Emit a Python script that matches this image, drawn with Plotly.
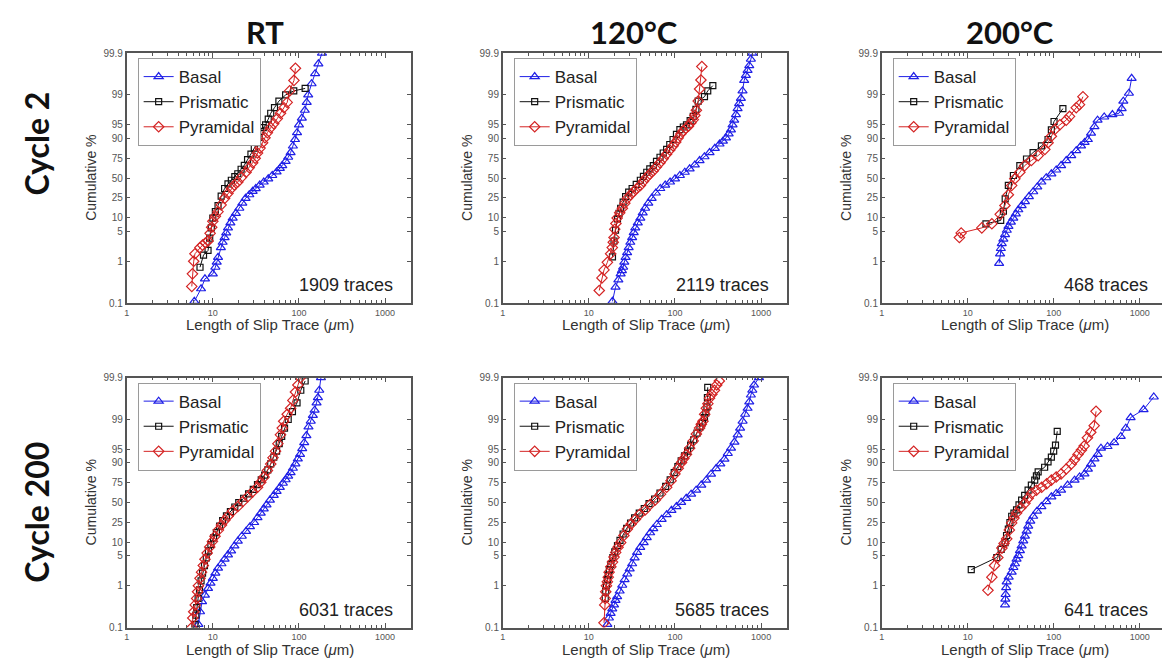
import numpy as np
import plotly.graph_objects as go

# ---------------------------------------------------------------
# Cumulative distribution of slip-trace lengths (um, cumulative %)
# rows: fatigue cycle, columns: test temperature
# ---------------------------------------------------------------
temperatures = ["RT", "120°C", "200°C"]
cycles = ["Cycle 2", "Cycle 200"]
systems = ["Basal", "Prismatic", "Pyramidal"]
trace_counts = [1909, 2119, 468, 6031, 5685, 641]

prob_ticks = [0.1, 1, 5, 10, 25, 50, 75, 90, 95, 99, 99.9]
prob_labels = ["0.1", "1", "5", "10", "25", "50", "75", "90", "95", "99", "99.9"]
len_ticks = [1, 10, 100, 1000]
len_labels = ["1", "10", "100", "1000"]

# ---- Cycle 2, RT ----
c2_rt_basal_len = [6.1, 7.3, 8.1, 10, 10.7, 11.1, 11.5, 12.4, 13.0, 13.7, 14.3, 15, 16, 17, 18.5, 20.3, 22, 24, 26.5, 29, 31.5, 35, 39, 44, 49, 55, 60, 64, 70, 75, 80, 85, 90, 95, 100, 108, 117, 123, 128, 140, 154, 168, 185]
c2_rt_basal_pct = [0.11, 0.22, 0.38, 0.5, 0.72, 0.95, 1.24, 2.1, 2.8, 3.6, 4.6, 6.0, 7.8, 9.9, 12.5, 15.9, 20, 24.6, 28.5, 32.5, 35.9, 40.5, 44.6, 49, 53.6, 58.5, 63, 66.6, 71.5, 76, 80.4, 85.5, 89.4, 92.5, 95.0, 96.5, 97.7, 98.5, 99.0, 99.46, 99.69, 99.82, 99.9]
c2_rt_prism_len = [7.1, 7.8, 8.8, 9.2, 9.6, 10, 10.7, 11.5, 12.5, 13.7, 15, 16.4, 18, 19.5, 21.3, 23.2, 25.3, 27.7, 30.3, 33, 34.5, 36, 38.5, 41, 44, 47, 52, 58.5, 70, 87, 118]
c2_rt_prism_pct = [0.72, 1.4, 1.8, 3.5, 6, 9.9, 13.5, 18, 27, 36, 42, 47, 52, 56, 62, 67, 73.5, 79, 84, 87.6, 90.5, 93, 94.2, 95, 96.3, 97.3, 98.0, 98.6, 99.0, 99.2, 99.3]
c2_rt_pyr_len = [5.7, 5.8, 6.0, 6.2, 7.1, 7.6, 8.2, 8.8, 9.3, 9.7, 10, 10.7, 11.5, 12.5, 13.7, 15, 16.4, 17.8, 19.5, 21.5, 24.3, 26.5, 29, 31, 33, 35.3, 37.8, 40.3, 43, 47, 51, 56, 61, 67, 73, 78, 87.5, 91]
c2_rt_pyr_pct = [0.25, 0.5, 1.0, 1.5, 2.1, 2.4, 2.7, 3.0, 4.5, 6.2, 8.4, 10.8, 13.5, 18.5, 24.6, 30, 36, 40.5, 44.6, 51, 58, 64, 70, 75, 80, 84, 87.6, 90.3, 92.5, 94.2, 95.3, 96.4, 97.3, 98.0, 98.5, 99.2, 99.55, 99.77]

# ---- Cycle 2, 120°C ----
c2_120_basal_len = [18.8, 20.4, 22, 23.4, 24.2, 25, 25.8, 26.7, 27.8, 29, 30.3, 31.8, 33.2, 34.6, 37, 39.6, 42.2, 45, 49, 53.6, 60, 67.5, 77, 87.7, 100, 114, 130, 148, 170, 193, 220, 252, 290, 329, 360, 391, 420, 446, 466, 487, 510, 533, 555, 582, 608, 636, 665, 696, 728, 760, 790]
c2_120_basal_pct = [0.11, 0.24, 0.36, 0.5, 0.6, 0.72, 0.95, 1.24, 1.6, 2.1, 2.8, 3.6, 4.7, 6.0, 7.8, 9.9, 12.8, 15.9, 20, 24.6, 30.5, 36, 40.5, 44.6, 49, 53.6, 58, 62.5, 67.5, 72.5, 76.5, 80.4, 83.8, 86.8, 88.5, 90.2, 92, 93.5, 95, 96.1, 97.1, 97.9, 98.4, 98.8, 99.2, 99.55, 99.66, 99.74, 99.8, 99.86, 99.9]
c2_120_prism_len = [18.8, 19.6, 20.4, 21.5, 22.4, 23.4, 25, 26.7, 29, 31.8, 35.5, 39.6, 43, 47, 51, 56, 61, 67, 73, 80, 87, 95, 104, 114, 125, 136, 150, 163, 175, 186, 220, 240, 275]
c2_120_prism_pct = [1.27, 3.0, 5.3, 9.5, 12.5, 15.9, 21, 26.5, 31.5, 36, 41.5, 47, 52.5, 58, 62.5, 66.6, 71.5, 76, 80, 83, 86.5, 89.4, 91.8, 93.6, 94.4, 95, 96, 96.8, 97.8, 98.6, 98.9, 99.2, 99.4]
c2_120_pyr_len = [13.2, 14.2, 15.0, 16.4, 17.9, 18.7, 19.2, 19.6, 20, 20.6, 21.3, 22.8, 24.5, 26.2, 28, 30.5, 33, 36, 39.7, 43, 47, 51, 56, 61, 67, 73, 80, 87, 95, 102, 109, 117, 125, 134, 143, 153, 163, 170, 177, 186, 193, 200, 205]
c2_120_pyr_pct = [0.2, 0.4, 0.62, 0.94, 1.5, 2.1, 2.8, 3.6, 5.6, 7.5, 9.9, 12.8, 15.9, 20, 24.6, 28.5, 32, 36, 40, 45.5, 51, 55.5, 60, 65, 70, 74.5, 79, 82.5, 85.6, 88, 90.2, 92, 93.2, 94, 94.6, 95.5, 96.2, 97, 97.7, 98.6, 99.28, 99.56, 99.79]

# ---- Cycle 2, 200°C ----
c2_200_basal_len = [23.2, 23.8, 24.3, 24.9, 26, 27.2, 28.5, 29.8, 31.8, 33.9, 36.3, 38.8, 42.4, 46.3, 51.5, 57.8, 64.5, 72, 82, 94, 107, 122, 140, 160, 183, 208, 229, 250, 272, 298, 324, 387, 482, 575, 618, 646, 750, 807]
c2_200_basal_pct = [0.89, 1.5, 2.0, 2.6, 3.3, 4.2, 5.3, 6.5, 8.1, 9.9, 12.2, 14.8, 18, 21.5, 26.5, 32, 38, 44.6, 50.5, 55.9, 61, 66.6, 72.5, 77.6, 82, 85.6, 87.8, 89.4, 92.3, 94.5, 96.1, 96.7, 97.1, 97.3, 97.9, 98.6, 99.09, 99.6]
c2_200_prism_len = [16.3, 24.2, 26, 27.3, 29.7, 34, 40.4, 48.3, 57.6, 72, 86, 94, 101, 128]
c2_200_prism_pct = [7.4, 8.8, 13.8, 24, 40, 53.6, 66.6, 74.2, 80.4, 85.6, 89.4, 93.5, 95.8, 97.9]
c2_200_pyr_len = [8, 8.4, 14.6, 19.1, 23.9, 27.1, 29.7, 32.5, 35.3, 40.4, 46, 55, 66, 79, 86, 94, 103, 118, 140, 153, 183, 200, 219]
c2_200_pyr_pct = [3.6, 4.6, 6.0, 7.4, 11.9, 18, 28.5, 40, 49, 58, 66.6, 72.5, 77.6, 83, 87.6, 91, 93.6, 95, 96.1, 96.8, 98, 98.3, 98.9]

# ---- Cycle 200, RT ----
c200_rt_basal_len = [6.8, 7.1, 7.5, 8.1, 8.8, 9.4, 10, 10.7, 11.5, 12.6, 13.7, 15, 16.3, 17.8, 19.5, 21.7, 24.3, 27, 30.2, 33, 36, 39, 42, 46, 51, 55, 60, 65, 70, 75, 80, 85, 91, 97, 103, 109, 115, 122, 129, 137, 145, 152, 160, 166, 172, 180]
c200_rt_basal_pct = [0.12, 0.24, 0.42, 0.6, 0.87, 1.15, 1.5, 2.0, 2.6, 3.3, 4.2, 5.3, 6.5, 8.4, 10.6, 13.5, 17, 21, 25, 30.5, 36, 41.5, 47, 53.5, 60, 65, 70, 74.5, 78, 81.2, 84, 87, 89.5, 91.8, 93.5, 95.2, 96.5, 97.6, 98.5, 98.9, 99.2, 99.4, 99.6, 99.7, 99.8, 99.9]
c200_rt_prism_len = [6.2, 6.35, 6.5, 6.75, 7.0, 7.3, 7.6, 8, 8.4, 8.9, 9.5, 10.2, 11, 12, 13, 14.4, 16, 18, 20, 22.8, 26, 29.5, 33, 36.5, 40, 43.5, 47, 51, 55, 59, 63, 68, 75, 84, 95, 105, 118]
c200_rt_prism_pct = [0.12, 0.2, 0.3, 0.5, 0.8, 1.3, 2.0, 3.0, 4.5, 6.5, 9, 12.5, 16, 21.5, 27, 32.5, 38, 44, 50, 56, 62, 67.5, 73, 78, 82, 86, 89.5, 92.5, 94.5, 96.3, 97.5, 98.4, 99.0, 99.35, 99.6, 99.8, 99.88]
c200_rt_pyr_len = [5.7, 5.85, 6.0, 6.25, 6.5, 6.65, 6.8, 7.1, 7.4, 7.75, 8.1, 8.6, 9.2, 9.9, 10.6, 11.6, 12.6, 13.8, 15, 17, 19.5, 22.3, 25.4, 29, 33, 36, 39.3, 43, 47, 50, 53.5, 57, 61, 64, 66.5, 73, 80, 85, 91, 97, 104]
c200_rt_pyr_pct = [0.1, 0.17, 0.24, 0.35, 0.5, 0.72, 1.0, 1.5, 2.1, 3.0, 4.2, 5.8, 7.9, 10.5, 13.5, 18, 22.5, 27.5, 32, 38.5, 44.6, 51.5, 58, 64.5, 70, 75.5, 80.4, 85.5, 89.4, 92.3, 94.5, 96.3, 97.7, 98.4, 98.9, 99.25, 99.46, 99.65, 99.78, 99.85, 99.9]

# ---- Cycle 200, 120°C ----
c200_120_basal_len = [16.4, 17.1, 17.9, 18.7, 19.6, 20.4, 21.3, 22.8, 24.4, 26, 27.9, 29.8, 31.8, 34, 36.3, 39.5, 43.3, 47, 51.5, 56, 61.5, 70, 80, 91, 104, 118, 135, 154, 176, 202, 230, 262, 300, 336, 375, 410, 447, 490, 534, 570, 609, 652, 696, 728, 760, 790, 828, 944]
c200_120_basal_pct = [0.12, 0.17, 0.22, 0.28, 0.35, 0.45, 0.55, 0.75, 1.03, 1.4, 1.9, 2.5, 3.3, 4.5, 6.0, 7.8, 9.9, 12.6, 15.9, 19.2, 23, 28.5, 34, 39.5, 44.6, 50.5, 55.9, 61.5, 66.6, 72.5, 77.6, 82.8, 86.8, 89.5, 91.7, 93.8, 95.3, 96.6, 97.7, 98.4, 98.9, 99.25, 99.46, 99.62, 99.74, 99.8, 99.85, 99.9]
c200_120_prism_len = [15.5, 15.7, 16, 16.4, 16.8, 17.3, 18, 19, 20, 21.5, 23, 25, 27.5, 30.5, 34, 38.5, 44, 50, 58, 67, 78, 88, 98, 108, 118, 129, 140, 152, 165, 180, 195, 208, 220, 228, 235, 238, 240]
c200_120_prism_pct = [0.5, 0.75, 1.0, 1.4, 1.8, 2.4, 3.2, 4.6, 6.2, 8.5, 11, 15, 19.5, 24.5, 30, 36, 42, 48.5, 55, 63, 71, 78, 84, 88, 91, 93, 94.5, 96, 97, 97.9, 98.5, 98.8, 99.1, 99.3, 99.5, 99.7, 99.83]
c200_120_pyr_len = [15, 15.3, 15.5, 15.7, 16, 16.4, 16.8, 17.2, 18, 18.8, 19.6, 20.5, 21.8, 23.4, 25.5, 28, 31, 34.7, 39, 45, 51, 59, 68, 80, 90, 100, 109, 119, 127, 136, 148, 163, 177, 193, 202, 211, 221, 231, 241, 252, 268, 287, 305, 327]
c200_120_pyr_pct = [0.13, 0.35, 0.5, 0.72, 1.0, 1.24, 1.6, 2.1, 2.8, 3.6, 4.7, 6, 7.8, 9.9, 14, 18.8, 23.5, 28.5, 34.5, 40, 47, 53.6, 61.5, 70, 77, 83, 87, 90.2, 92, 93.5, 95.3, 96.8, 97.8, 98.4, 98.7, 98.9, 99.25, 99.46, 99.58, 99.69, 99.75, 99.8, 99.85, 99.88]

# ---- Cycle 200, 200°C ----
c200_200_basal_len = [27.2, 27.4, 27.6, 28, 28.4, 30, 32.5, 34, 35.5, 37, 38.8, 40.5, 42.4, 44.3, 46.3, 48.5, 50.6, 53.5, 57.8, 64, 72, 82, 94, 107, 122, 145, 175, 200, 228, 250, 272, 298, 325, 355, 423, 505, 603, 690, 785, 1110, 1460]
c200_200_basal_pct = [0.35, 0.48, 0.62, 0.9, 1.24, 1.6, 2.1, 2.7, 3.3, 4.2, 5.1, 6.6, 8.4, 10.8, 13.6, 17.2, 21.5, 26.5, 32, 38.5, 44.6, 51.5, 58, 62.5, 66.6, 72.5, 77.6, 80.5, 83, 86.5, 89.4, 91.8, 93.5, 95.3, 95.7, 96.5, 97.5, 98.4, 99.1, 99.42, 99.71]
c200_200_prism_len = [11.0, 21.8, 24.5, 27.2, 28.3, 29.7, 31, 32.5, 34.5, 37, 39.5, 42.4, 46, 50.4, 55, 60.2, 63, 66, 78.5, 86, 94, 100, 105, 110]
c200_200_prism_pct = [2.4, 4.6, 7, 9.9, 14, 18.8, 25, 32, 36, 40, 47, 53.6, 60, 66.6, 72.5, 77.6, 81.5, 84.6, 87.6, 90.5, 92.5, 94.5, 96, 98.1]
c200_200_pyr_len = [17.2, 19.1, 20.5, 22.4, 25, 26.5, 28.4, 30.5, 32.5, 34.5, 37, 41.5, 46.3, 50.5, 55.4, 63, 72.5, 83, 94, 107, 122, 140, 160, 175, 192, 210, 226, 247, 270, 296, 311]
c200_200_pyr_pct = [0.78, 1.6, 3.0, 4.6, 7.5, 9.5, 11.9, 18, 24.6, 30, 36, 43, 49, 56, 62.5, 66.5, 70, 74, 77.6, 80.5, 83, 86.5, 89.4, 91.5, 93.5, 94.8, 95.8, 97.3, 98.0, 98.6, 99.36]

panels = [
    [(c2_rt_basal_len, c2_rt_basal_pct), (c2_rt_prism_len, c2_rt_prism_pct), (c2_rt_pyr_len, c2_rt_pyr_pct)],
    [(c2_120_basal_len, c2_120_basal_pct), (c2_120_prism_len, c2_120_prism_pct), (c2_120_pyr_len, c2_120_pyr_pct)],
    [(c2_200_basal_len, c2_200_basal_pct), (c2_200_prism_len, c2_200_prism_pct), (c2_200_pyr_len, c2_200_pyr_pct)],
    [(c200_rt_basal_len, c200_rt_basal_pct), (c200_rt_prism_len, c200_rt_prism_pct), (c200_rt_pyr_len, c200_rt_pyr_pct)],
    [(c200_120_basal_len, c200_120_basal_pct), (c200_120_prism_len, c200_120_prism_pct), (c200_120_pyr_len, c200_120_pyr_pct)],
    [(c200_200_basal_len, c200_200_basal_pct), (c200_200_prism_len, c200_200_prism_pct), (c200_200_pyr_len, c200_200_pyr_pct)],
]


def logit(pct):
    """Probability-paper (logistic) scale for a cumulative percentage."""
    q = np.asarray(pct, dtype=float) / 100.0
    return np.log(q / (1.0 - q))


# ---- styling ----
W, H = 1162, 666
col_px = [(124, 409), (501, 786), (881, 1162)]
row_px = [(48, 302.5), (378.5, 633)]
x_max = [3.3, 3.3, 3.26]
heading_x = [263, 633, 1010]
row_label_y = [140, 515]

styles = {
    "Basal": dict(color="#1f1fe6", symbol="triangle-up-open", size=8),
    "Prismatic": dict(color="#111111", symbol="square-open", size=6),
    "Pyramidal": dict(color="#d42424", symbol="diamond-open", size=8),
}
axis_color = "#555555"
label_family = "Liberation Sans, Arial, sans-serif"
heading_family = "Lato, sans-serif"
xtick_font = dict(family=label_family, size=9, color="#555555")
ytick_font = dict(family=label_family, size=10, color="#555555")

minor_vals = [m * 10 ** e for e in range(0, 4) for m in range(2, 10)]

fig = go.Figure()
layout = dict(
    width=W, height=H,
    margin=dict(l=0, r=0, t=0, b=0),
    paper_bgcolor="white", plot_bgcolor="white",
    showlegend=True,
    annotations=[],
)

for k, series in enumerate(panels):
    r, c = divmod(k, 3)
    sfx = "" if k == 0 else str(k + 1)
    xl, xr = col_px[c]
    yt, yb = row_px[r]
    legend_name = "legend" + sfx

    for name, (lengths, pct) in zip(systems, series):
        st = styles[name]
        fig.add_trace(go.Scatter(
            x=lengths, y=logit(pct), name=name,
            mode="lines+markers",
            line=dict(color=st["color"], width=1),
            marker=dict(symbol=st["symbol"], size=st["size"], color=st["color"],
                        line=dict(color=st["color"], width=1.2)),
            xaxis="x" + sfx, yaxis="y" + sfx,
            legend=legend_name, showlegend=True,
        ))

    layout["xaxis" + sfx] = dict(
        domain=[xl / W, xr / W], anchor="y" + sfx, type="log",
        range=[0, x_max[c]],
        tickmode="array", tickvals=len_ticks, ticktext=len_labels,
        ticks="inside", ticklen=5, tickwidth=1, tickcolor=axis_color,
        minor=dict(tickmode="array", tickvals=minor_vals, ticks="inside",
                   ticklen=3, tickcolor=axis_color, showgrid=False),
        showline=True, linecolor=axis_color, linewidth=1.5, mirror="allticks",
        showgrid=False, zeroline=False, tickfont=xtick_font,
    )
    layout["yaxis" + sfx] = dict(
        domain=[1 - yb / H, 1 - yt / H], anchor="x" + sfx,
        range=[float(logit(0.1)), float(logit(99.9))],
        tickmode="array", tickvals=list(logit(prob_ticks)), ticktext=prob_labels,
        ticks="inside", ticklen=4, tickwidth=1, tickcolor=axis_color,
        showline=True, linecolor=axis_color, linewidth=1.5,
        mirror="allticks" if c < 2 else False,
        showgrid=False, zeroline=False, tickfont=ytick_font,
    )
    layout[legend_name] = dict(
        x=(xl + 11) / W, y=1 - (yt + 5) / H, xanchor="left", yanchor="top",
        bgcolor="white", bordercolor="#9a9a9a", borderwidth=1,
        font=dict(family=label_family, size=17, color="#222222"),
        itemwidth=30, tracegroupgap=0,
    )

    # axis titles
    layout["annotations"].append(dict(
        text="Cumulative %", textangle=-90, xref="paper", yref="paper",
        x=(xl - 36) / W, y=1 - (yt + yb) / 2 / H, showarrow=False,
        xanchor="center", yanchor="middle",
        font=dict(family=label_family, size=14, color="#333333"),
    ))
    layout["annotations"].append(dict(
        text="Length of Slip Trace (<i>μ</i>m)", xref="paper", yref="paper",
        x=(xl + 144) / W, y=1 - (yb + 22) / H, showarrow=False,
        xanchor="center", yanchor="middle",
        font=dict(family=label_family, size=15, color="#333333"),
    ))
    # number of traces in the panel
    layout["annotations"].append(dict(
        text=f"{trace_counts[k]} traces", xref="paper", yref="paper",
        x=(xl + 269) / W, y=1 - (yt + 236.5) / H, showarrow=False,
        xanchor="right", yanchor="middle",
        font=dict(family=label_family, size=18, color="#222222"),
    ))

# column and row headings
for c, temp in enumerate(temperatures):
    layout["annotations"].append(dict(
        text=f"<b>{temp}</b>", xref="paper", yref="paper",
        x=heading_x[c] / W, y=1 - 26 / H, showarrow=False,
        xanchor="center", yanchor="middle",
        font=dict(family=heading_family, size=31, color="#111111"),
    ))
for r, cyc in enumerate(cycles):
    layout["annotations"].append(dict(
        text=f"<b>{cyc}</b>", textangle=-90, xref="paper", yref="paper",
        x=34 / W, y=1 - row_label_y[r] / H, showarrow=False,
        xanchor="center", yanchor="middle",
        font=dict(family=heading_family, size=32, color="#111111"),
    ))

fig.update_layout(**layout)
fig.write_html("out.html")
